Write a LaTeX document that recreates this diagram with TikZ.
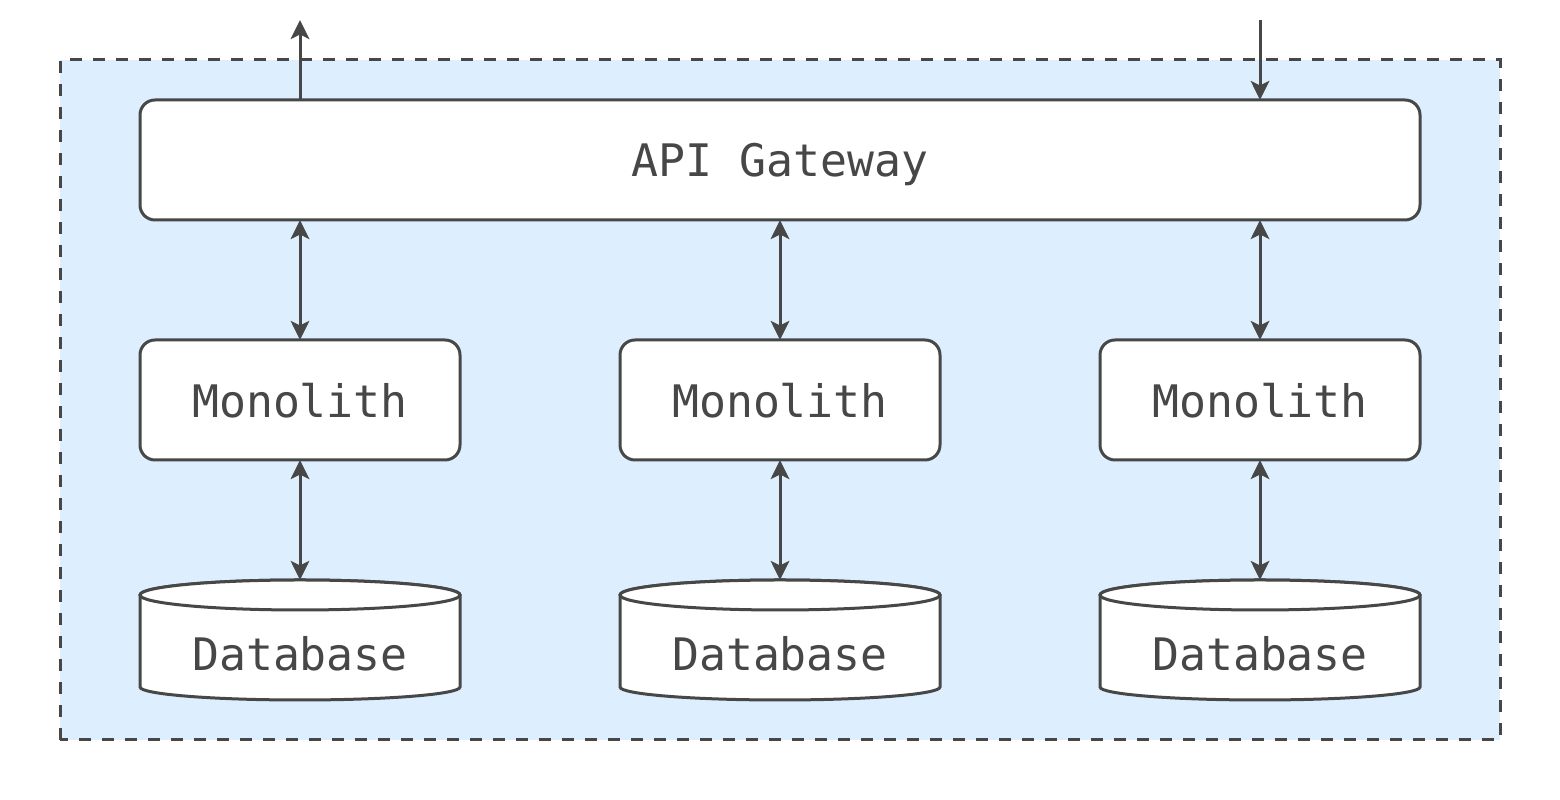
\documentclass[tikz,border=0pt]{standalone}
\usepackage{fontspec}
\setmonofont{DejaVu Sans Mono}
\usetikzlibrary{arrows.meta,positioning,backgrounds}
\definecolor{colorLine}{HTML}{474747}
\definecolor{colorZone}{HTML}{DDEFFE}

\begin{document}
\begin{tikzpicture}[
    box/.style={
      rectangle, rounded corners=0.3cm,
      draw=colorLine, fill=white, line width=0.06cm,
      minimum width=6.4cm, minimum height=2.4cm,
      inner sep=0pt, outer sep=0pt, text depth=0pt,
      font=\fontsize{25.5}{30}\selectfont\ttfamily,
      text=colorLine
    },
    dbnode/.style={
      rectangle, inner sep=0pt, outer sep=0pt,
      minimum width=6.4cm,
      text height=1.82cm, text depth=0.58cm,
      font=\fontsize{25.5}{30}\selectfont\ttfamily,
      text=colorLine
    },
    dbshape/.style={draw=colorLine, fill=white, line width=0.06cm},
    arr/.style={-{Stealth[length=0.38cm, width=0.37cm, inset=0.09cm]}, line width=0.06cm, draw=colorLine},
    biarr/.style={{Stealth[length=0.38cm, width=0.37cm, inset=0.09cm]}-{Stealth[length=0.38cm, width=0.37cm, inset=0.09cm]}, line width=0.06cm, draw=colorLine}
  ]
    \useasboundingbox (0,0) rectangle (31.2,16);

    \node[box, minimum width=25.6cm] (gw) at (15.6,12.8) {API Gateway};
    \node[box, below=2.4cm of gw] (mono2) {Monolith};
    \node[box, left=3.2cm of mono2] (mono1) {Monolith};
    \node[box, right=3.2cm of mono2] (mono3) {Monolith};
    \node[dbnode, below=2.4cm of mono1] (db1) {Database};
    \node[dbnode, below=2.4cm of mono2] (db2) {Database};
    \node[dbnode, below=2.4cm of mono3] (db3) {Database};

    \coordinate (out) at (mono1.north |- 0,15.6);
    \coordinate (in) at (mono3.north |- 0,15.6);

    % zone and cylinders behind the text
    \begin{scope}[on background layer]
      \draw[colorLine, fill=colorZone, line width=0.06cm, dash pattern=on 0.24cm off 0.22cm]
        (1.2,1.2) rectangle (30,14.8);
      \foreach \n in {db1,db2,db3} {
        \draw[dbshape] ([yshift=-0.3cm]\n.north west) -- ([yshift=0.26cm]\n.south west)
          arc[start angle=180, end angle=360, x radius=3.2cm, y radius=0.26cm]
          -- ([yshift=-0.3cm]\n.north east)
          arc[start angle=0, end angle=180, x radius=3.2cm, y radius=0.3cm] -- cycle;
        \draw[dbshape] ([yshift=-0.3cm]\n.north) ellipse[x radius=3.2cm, y radius=0.3cm];
      }
    \end{scope}

    \draw[arr] (gw.north -| mono1.north) -- (out);
    \draw[arr] (in) -- (gw.north -| mono3.north);

    \draw[biarr] (gw.south -| mono1.north) -- (mono1);
    \draw[biarr] (gw.south -| mono2.north) -- (mono2);
    \draw[biarr] (gw.south -| mono3.north) -- (mono3);
    \draw[biarr] (mono1) -- (db1);
    \draw[biarr] (mono2) -- (db2);
    \draw[biarr] (mono3) -- (db3);
  \end{tikzpicture}
\end{document}
